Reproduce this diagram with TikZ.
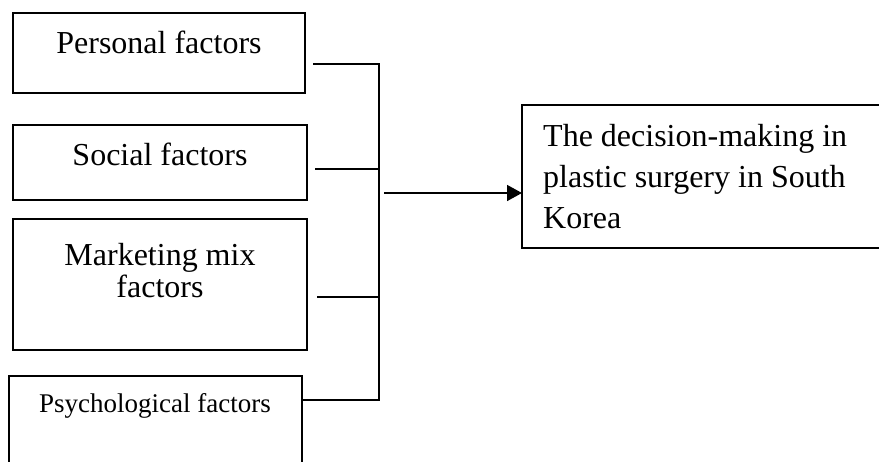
\documentclass[tikz,border=0pt]{standalone}
\usepackage{fontspec}
\setmainfont{Liberation Serif}
\usetikzlibrary{arrows.meta}
\begin{document}
\begin{tikzpicture}[x=1pt,y=-1pt,
  box/.style={draw,line width=1.6pt,inner sep=0pt,outer sep=0pt,anchor=north west},
  lbl/.style={font=\fontsize{32}{32}\selectfont,inner sep=0pt,anchor=base},
  small/.style={font=\fontsize{27}{27}\selectfont,inner sep=0pt,anchor=base},
  wire/.style={line width=1.6pt}]
\useasboundingbox (0,0) rectangle (879,461);
% boxes
\node[box,minimum width=292,minimum height=80] (pers) at (13,13) {};
\node[box,minimum width=294,minimum height=75] (soc) at (13,125) {};
\node[box,minimum width=294,minimum height=131] (mkt) at (13,219) {};
\node[box,minimum width=293,minimum height=120] (psy) at (9,376) {};
\node[box,minimum width=380,minimum height=143] (res) at (522,105) {};
% texts
\node[lbl] (tpers) at (159,53) {Personal factors};
\node[lbl] (tsoc) at (160,165) {Social factors};
\node[lbl,text width=280,align=flush center] (tmkt) at (160,265) {Marketing mix\\factors};
\node[small] (tpsy) at (155,412) {Psychological factors};
\node[lbl,anchor=base west,text width=330,align=flush left,font=\fontsize{32}{41}\selectfont] (tres) at (543,146)
  {The decision-making in\\plastic surgery in South\\Korea};
% connectors
\coordinate (s1) at (313,64);
\coordinate (s2) at (315,169);
\coordinate (s3) at (317,297);
\coordinate (b1) at (379,64);
\coordinate (b2) at (379,169);
\coordinate (b3) at (379,297);
\coordinate (b4) at (379,400);
\coordinate (a0) at (384,193);
\draw[wire] (s1) -- (b1);
\draw[wire] (s2) -- (b2);
\draw[wire] (s3) -- (b3);
\draw[wire] (psy.east |- b4) -- (b4);
\draw[wire,line cap=rect] (b1) -- (b4);
\draw[wire,-{Triangle[length=15pt,width=16pt]}] (a0) -- (a0 -| res.west);
\end{tikzpicture}
\end{document}
